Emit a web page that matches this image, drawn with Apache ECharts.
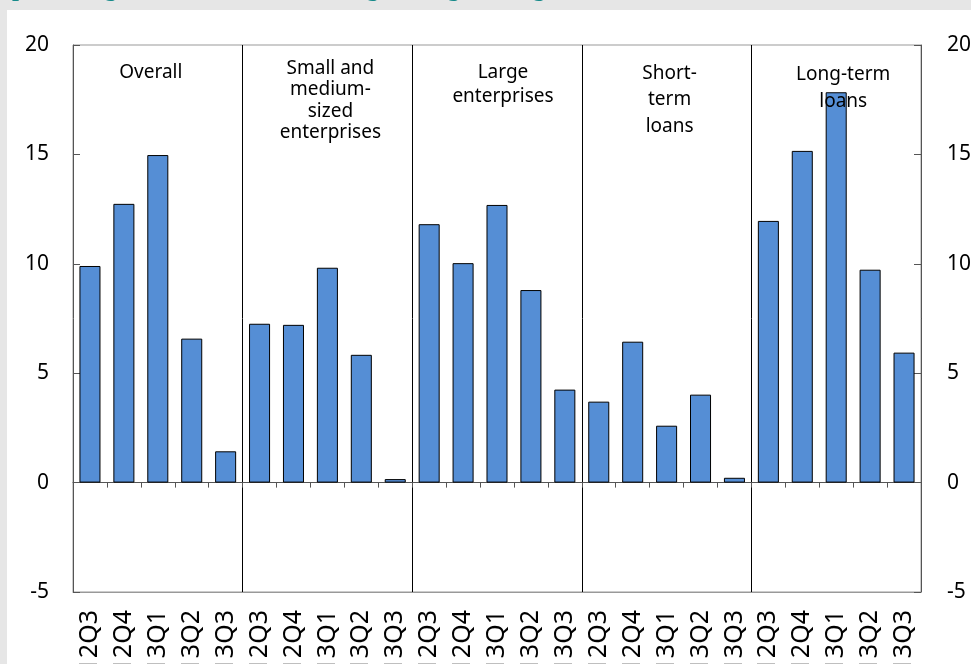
<!DOCTYPE html>
<html><head><meta charset="utf-8">
<script src="https://cdn.jsdelivr.net/npm/echarts@6/dist/echarts.min.js"></script>
<style>html,body{margin:0;padding:0;background:#e6e6e6}#c{width:971px;height:664px}</style>
</head><body><div id="c"></div>
<script>
// ---- data ----
const titleText = "percentage of banks in the area tightening lending standards, 2012\u20132013";
const groupLabels = ["Overall", "Small and\nmedium-\nsized\nenterprises", "Large\nenterprises", "Short-\nterm\nloans", "Long-term\nloans"];
const quarters = ["12Q3", "12Q4", "13Q1", "13Q2", "13Q3"];
const overall   = [9.90, 12.74, 14.97, 6.58, 1.43];
const smes      = [7.26, 7.21, 9.82, 5.84, 0.16];
const large     = [11.81, 10.03, 12.69, 8.80, 4.25];
const shortTerm = [3.70, 6.44, 2.60, 4.02, 0.22];
const longTerm  = [11.96, 15.16, 17.84, 9.73, 5.94];
const yMin = -5, yMax = 20, yStep = 5;

// ---- build ----
const groups = [overall, smes, large, shortTerm, longTerm];
const categories = [];
const values = [];
groups.forEach(g => { quarters.forEach((q, i) => { categories.push(q); values.push(g[i]); }); });
const perGroup = quarters.length;

const font = "Noto Sans";
const chart = echarts.init(document.getElementById('c'), null, {renderer: 'canvas'});

const yAxisBase = {
  type: 'value', min: yMin, max: yMax, interval: yStep,
  axisLine: {show: true, lineStyle: {color: '#555', width: 1}},
  axisTick: {show: true, inside: true, length: 7, lineStyle: {color: '#555'}},
  splitLine: {show: false},
  axisLabel: {color: '#000', fontSize: 21, fontFamily: font}
};

chart.setOption({
  backgroundColor: '#e6e6e6',
  animation: false,
  grid: {left: 73, right: 50, top: 45, bottom: 72, show: true, borderColor: '#999', borderWidth: 1,
         backgroundColor: 'transparent', containLabel: false, outerBoundsMode: 'none'},
  xAxis: [{
    type: 'category', data: categories, position: 'bottom',
    axisLine: {onZero: false, show: true, lineStyle: {color: '#999'}},
    axisTick: {show: false},
    axisLabel: {interval: 0, rotate: 90, margin: 18, color: '#000', fontSize: 25, fontFamily: font, hideOverlap: false},
    splitLine: {show: true, interval: (idx) => idx > 0 && idx % perGroup === 0, lineStyle: {color: '#000', width: 1}}
  }, {
    type: 'category', data: categories, position: 'bottom',
    axisLine: {onZero: true, show: true, lineStyle: {color: '#555', width: 1}},
    axisTick: {show: true, interval: 0, inside: false, length: 5, lineStyle: {color: '#555'}},
    axisLabel: {show: false},
    splitLine: {show: false}
  }],
  yAxis: [
    Object.assign({}, yAxisBase, {position: 'left', axisLabel: Object.assign({}, yAxisBase.axisLabel, {margin: 24})}),
    Object.assign({}, yAxisBase, {position: 'right', axisLabel: Object.assign({}, yAxisBase.axisLabel, {margin: 26})})
  ],
  series: [{
    type: 'bar', xAxisIndex: 0, yAxisIndex: 0, data: values,
    barWidth: '62%',
    itemStyle: {color: '#558ED5', borderColor: '#000', borderWidth: 1}
  }]
});

// annotation layout
const labelDx = [-7, 3, 6, 3, 7];
const labelTop = [60, 57.5, 61, 60, 61.5];
const labelLH = [26, 21.5, 24, 26.5, 27];
const elements = [
  {type: 'rect', z: -10, silent: true, shape: {x: 7, y: 10, width: 964, height: 654}, style: {fill: '#fff'}},
  {type: 'text', silent: true, style: {text: titleText, x: 12, y: 2, fill: '#178a8a', font: 'bold 25px "Liberation Serif"', textAlign: 'left', textVerticalAlign: 'bottom'}}
];
groupLabels.forEach((t, gi) => {
  const a = chart.convertToPixel({xAxisIndex: 0}, gi * perGroup);
  const b = chart.convertToPixel({xAxisIndex: 0}, gi * perGroup + perGroup - 1);
  const cx = (a + b) / 2 + labelDx[gi];
  elements.push({type: 'text', silent: true, z: 10, style: {
    text: t, x: cx, y: labelTop[gi], fill: '#000', fontSize: 19, fontFamily: font,
    textAlign: 'center', textVerticalAlign: 'top', lineHeight: labelLH[gi]
  }});
});
chart.setOption({graphic: {elements: elements}});
</script></body></html>
